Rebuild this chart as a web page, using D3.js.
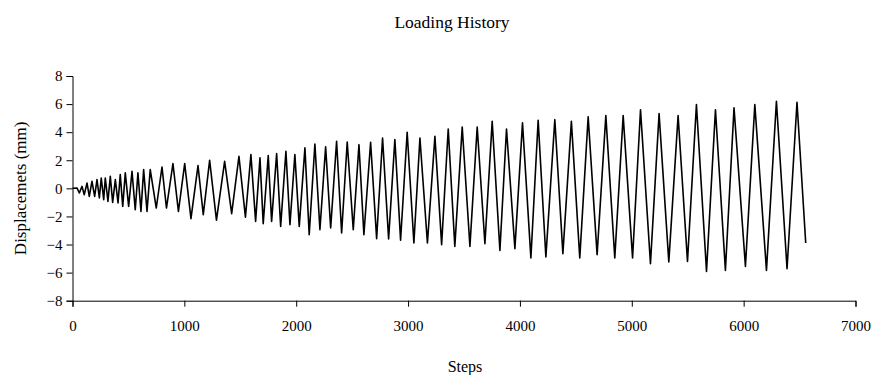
<!DOCTYPE html>
<html>
<head>
<meta charset="utf-8">
<script src="https://cdn.jsdelivr.net/npm/d3@7"></script>
<style>
  html, body { margin: 0; padding: 0; background: #fff; }
  svg { display: block; }
  text { font-family: "Liberation Serif", "Times New Roman", serif; fill: #000; }
</style>
</head>
<body>
<script>
// ---- data ----
const xTicks = [0, 1000, 2000, 3000, 4000, 5000, 6000, 7000];
const yTicks = [-8, -6, -4, -2, 0, 2, 4, 6, 8];

const startPoint = [0, 0];
const endPoint = [6555, -3.89];

const peakSteps = [40, 85, 130, 174, 219, 257, 293, 338, 383, 427, 472, 532, 585, 636, 695,
  800, 898, 1003, 1122, 1226, 1360, 1488, 1595, 1676, 1750, 1825, 1908, 1988,
  2078, 2167, 2263, 2361, 2456, 2561, 2665, 2772, 2882, 2992, 3106,
  3240, 3359, 3484, 3618, 3752, 3880, 4023, 4163, 4312,
  4460, 4610, 4768, 4923, 5078, 5244, 5414, 5578, 5748, 5914, 6100, 6293, 6477];
const peakValues = [0.03, 0.14, 0.38, 0.50, 0.62, 0.74, 0.74, 0.85, 0.62, 0.98, 1.10, 1.21, 1.10, 1.33, 1.33,
  1.52, 1.76, 1.76, 1.62, 1.99, 1.92, 2.28, 2.40, 2.17, 2.33, 2.47, 2.64, 2.40,
  2.88, 3.16, 2.95, 3.35, 3.30, 3.11, 3.28, 3.59, 3.47, 3.99, 3.59,
  3.70, 4.23, 4.37, 4.37, 4.77, 4.23, 4.66, 4.84, 4.89,
  4.77, 5.09, 5.18, 5.18, 5.60, 5.32, 5.18, 5.96, 5.60, 5.73, 5.96, 6.20, 6.13];

const troughSteps = [61, 105, 150, 198, 240, 279, 317, 359, 407, 449, 502, 561, 612, 666,
  749, 840, 947, 1059, 1169, 1287, 1423, 1546, 1637, 1705, 1780, 1861, 1944, 2027,
  2116, 2212, 2308, 2406, 2510, 2605, 2719, 2826, 2933, 3052, 3173,
  3300, 3418, 3553, 3687, 3821, 3955, 4098, 4232, 4384,
  4535, 4690, 4848, 5007, 5167, 5331, 5498, 5668, 5837, 6016, 6204, 6388];
const troughValues = [-0.33, -0.45, -0.57, -0.57, -0.68, -0.80, -0.93, -1.00, -1.04, -1.28, -1.28, -1.52, -1.64, -1.64,
  -1.40, -1.40, -1.64, -2.16, -1.87, -2.26, -1.80, -2.05, -2.35, -2.51, -2.35, -2.71, -2.59, -2.71,
  -3.30, -2.94, -2.82, -3.18, -2.94, -3.30, -3.58, -3.60, -3.70, -3.89, -3.89,
  -4.01, -4.13, -4.13, -3.94, -4.42, -4.29, -4.96, -4.89, -4.65,
  -4.96, -4.72, -4.96, -4.96, -5.36, -5.24, -5.20, -5.91, -5.84, -5.56, -5.84, -5.72];

// ---- build the series: start, then alternating peak / trough, then end ----
const series = [startPoint];
for (let i = 0; i < peakSteps.length; i++) {
  series.push([peakSteps[i], peakValues[i]]);
  if (i < troughSteps.length) series.push([troughSteps[i], troughValues[i]]);
}
series.push(endPoint);

// ---- layout ----
const W = 876, H = 375;
const margin = { left: 72.5, right: 876 - 855.5, top: 76, bottom: 375 - 300.7 };

const svg = d3.select("body").append("svg")
  .attr("width", W).attr("height", H);

const x = d3.scaleLinear().domain([0, 7000]).range([margin.left, W - margin.right]);
const y = d3.scaleLinear().domain([-8, 8]).range([H - margin.bottom, margin.top]);

// axes
const xAxis = d3.axisBottom(x).tickValues(xTicks).tickSize(6).tickPadding(14)
  .tickFormat(d3.format("d"));
const yAxis = d3.axisLeft(y).tickValues(yTicks).tickSize(6).tickPadding(4)
  .tickFormat(d3.format("d"));

const gx = svg.append("g").attr("transform", `translate(0,${y(-8)})`).call(xAxis);
const gy = svg.append("g").attr("transform", `translate(${x(0)},0)`).call(yAxis);

[gx, gy].forEach(g => {
  g.select(".domain").attr("stroke", "#000").attr("stroke-width", 1);
  g.selectAll(".tick line").attr("stroke", "#000").attr("stroke-width", 1);
  g.selectAll(".tick text")
    .style("font-family", '"Liberation Serif", "Times New Roman", serif')
    .style("font-size", "15px").attr("fill", "#000");
});

// line
svg.append("path")
  .datum(series)
  .attr("fill", "none")
  .attr("stroke", "#000")
  .attr("stroke-width", 1.6)
  .attr("stroke-linejoin", "round")
  .attr("d", d3.line().x(d => x(d[0])).y(d => y(d[1])));

// title and labels
svg.append("text")
  .attr("x", 452).attr("y", 28)
  .attr("text-anchor", "middle")
  .style("font-size", "17.5px")
  .text("Loading History");

svg.append("text")
  .attr("x", 465).attr("y", 372)
  .attr("text-anchor", "middle")
  .style("font-size", "16px")
  .text("Steps");

svg.append("text")
  .attr("transform", `translate(26,${(y(8) + y(-8)) / 2}) rotate(-90)`)
  .attr("text-anchor", "middle")
  .style("font-size", "17px")
  .text("Displacemets (mm)");
</script>
</body>
</html>
